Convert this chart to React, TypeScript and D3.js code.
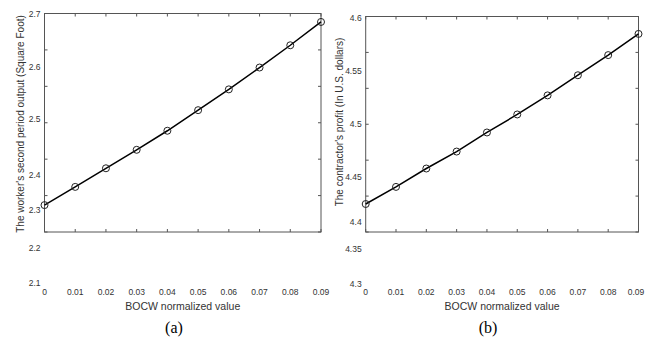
import React, { useEffect, useRef } from 'react';
import * as d3 from 'd3';

// BOCW normalized value (x)
const bocw = [0, 0.01, 0.02, 0.03, 0.04, 0.05, 0.06, 0.07, 0.08, 0.09];
const xTickLabels = ['0', '0.01', '0.02', '0.03', '0.04', '0.05', '0.06', '0.07', '0.08', '0.09'];

// panel (a)
const workerOutput = [2.314, 2.366, 2.412, 2.445, 2.479, 2.517, 2.557, 2.599, 2.641, 2.685];
const workerTicks = [2.1, 2.2, 2.3, 2.4, 2.5, 2.6, 2.7];

// panel (b)
const contractorProfit = [4.42, 4.439, 4.458, 4.474, 4.492, 4.509, 4.527, 4.546, 4.565, 4.585];
const profitTicks = [4.3, 4.35, 4.4, 4.45, 4.5, 4.55, 4.6];

const panels = [
  {
    values: workerOutput,
    ticks: workerTicks,
    fmt: (d: number) => d3.format('.1f')(d),
    yTitle: "The worker's second period output (Square Foot)",
    caption: '(a)',
    left: 44.5, right: 321, top: 13.5, bottom: 232,
    // where the printed tick labels sit (the source figure is unevenly stretched)
    labelPos: [283, 248, 210, 175, 119, 67, 14],
    yTitleX: 20, yTitleY: 124, captionX: 174,
  },
  {
    values: contractorProfit,
    ticks: profitTicks,
    fmt: (d: number) => d3.format('')(+d.toFixed(2)),
    yTitle: "The contractor's profit (In U.S. dollars)",
    caption: '(b)',
    left: 365.7, right: 638.5, top: 16.5, bottom: 232,
    labelPos: [284, 249, 222, 177, 124, 71, 18],
    yTitleX: 339, yTitleY: 122, captionX: 488,
  },
];

const W = 645;
const H = 339;
const axisColor = '#555';
const textColor = '#333';
const font = '"Liberation Sans", Arial, sans-serif';

export default function App() {
  const svgRef = useRef<SVGSVGElement>(null);

  useEffect(() => {
    const svg = d3.select(svgRef.current);
    svg.selectAll('*').remove();

    panels.forEach(p => {
      const g = svg.append('g');

      const x = d3.scaleLinear()
        .domain([bocw[0], bocw[bocw.length - 1]])
        .range([p.left, p.right]);

      // tick marks are evenly spaced on the box
      const yMarks = d3.scaleLinear()
        .domain([p.ticks[0], p.ticks[p.ticks.length - 1]])
        .range([p.bottom, p.top]);

      // labels and data follow the printed labels
      const y = d3.scaleLinear()
        .domain(p.ticks)
        .range(p.labelPos);

      // box
      g.append('rect')
        .attr('x', p.left)
        .attr('y', p.top)
        .attr('width', p.right - p.left)
        .attr('height', p.bottom - p.top)
        .attr('fill', 'none')
        .attr('stroke', axisColor)
        .attr('stroke-width', 1);

      // x tick marks, bottom and top, pointing in
      bocw.forEach(d => {
        g.append('line')
          .attr('x1', x(d)).attr('x2', x(d))
          .attr('y1', p.bottom).attr('y2', p.bottom - 3)
          .attr('stroke', axisColor);
        g.append('line')
          .attr('x1', x(d)).attr('x2', x(d))
          .attr('y1', p.top).attr('y2', p.top + 3)
          .attr('stroke', axisColor);
      });

      // y tick marks, left and right
      p.ticks.forEach(d => {
        g.append('line')
          .attr('x1', p.left).attr('x2', p.left + 3)
          .attr('y1', yMarks(d)).attr('y2', yMarks(d))
          .attr('stroke', axisColor);
        g.append('line')
          .attr('x1', p.right).attr('x2', p.right - 3)
          .attr('y1', yMarks(d)).attr('y2', yMarks(d))
          .attr('stroke', axisColor);
      });

      // x tick labels (kept inside the page edge)
      g.selectAll('.xl')
        .data(bocw)
        .enter().append('text')
        .attr('x', d => Math.min(x(d), W - 9))
        .attr('y', 295)
        .attr('text-anchor', 'middle')
        .attr('font-family', font)
        .attr('font-size', 8.5)
        .attr('fill', textColor)
        .text((_, i) => xTickLabels[i]);

      // y tick labels
      g.selectAll('.yl')
        .data(p.ticks)
        .enter().append('text')
        .attr('x', p.left - 4)
        .attr('y', d => y(d))
        .attr('dy', '0.35em')
        .attr('text-anchor', 'end')
        .attr('font-family', font)
        .attr('font-size', 8.5)
        .attr('fill', textColor)
        .text(d => p.fmt(d));

      // line
      const pts = bocw.map((d, i) => [d, p.values[i]] as [number, number]);
      const line = d3.line<[number, number]>()
        .x(d => x(d[0]))
        .y(d => y(d[1]));

      g.append('path')
        .datum(pts)
        .attr('d', line)
        .attr('fill', 'none')
        .attr('stroke', '#000')
        .attr('stroke-width', 1.5);

      g.selectAll('.pt')
        .data(pts)
        .enter().append('circle')
        .attr('cx', d => x(d[0]))
        .attr('cy', d => y(d[1]))
        .attr('r', 3.5)
        .attr('fill', 'none')
        .attr('stroke', '#222')
        .attr('stroke-width', 1);

      // x axis title
      g.append('text')
        .attr('x', (p.left + p.right) / 2)
        .attr('y', 310)
        .attr('text-anchor', 'middle')
        .attr('font-family', font)
        .attr('font-size', 10.5)
        .attr('fill', textColor)
        .text('BOCW normalized value');

      // y axis title
      g.append('text')
        .attr('transform', `translate(${p.yTitleX},${p.yTitleY}) rotate(-90)`)
        .attr('dy', '0.35em')
        .attr('text-anchor', 'middle')
        .attr('font-family', font)
        .attr('font-size', 10)
        .attr('fill', textColor)
        .text(p.yTitle);

      // caption
      g.append('text')
        .attr('x', p.captionX)
        .attr('y', 333)
        .attr('text-anchor', 'middle')
        .attr('font-family', '"Liberation Serif", "Times New Roman", serif')
        .attr('font-size', 16)
        .attr('fill', '#000')
        .text(p.caption);
    });
  }, []);

  return (
    <svg
      ref={svgRef}
      width={W}
      height={H}
      style={{ position: 'absolute', left: 0, top: 0, background: '#fff' }}
    />
  );
}
